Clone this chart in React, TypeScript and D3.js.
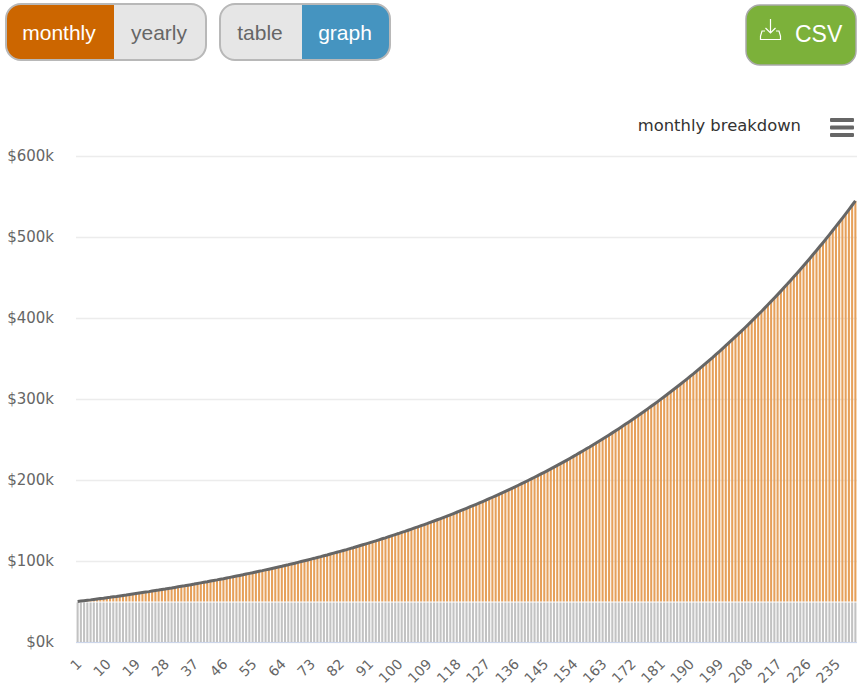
import React, { useEffect, useRef } from "react";
import * as d3 from "d3";

// balance in $k, one per month
const totals = [
  50.0, 50.5, 51.0, 51.5, 52.0, 52.6, 53.1, 53.6, 54.1, 54.7, 55.2, 55.8, 56.3, 56.9, 57.5, 58.0, 58.6, 59.2, 59.8, 60.4,
  61.0, 61.6, 62.2, 62.9, 63.5, 64.1, 64.8, 65.4, 66.1, 66.7, 67.4, 68.1, 68.8, 69.4, 70.1, 70.8, 71.5, 72.3, 73.0, 73.7,
  74.4, 75.2, 76.0, 76.7, 77.5, 78.2, 79.0, 79.8, 80.6, 81.4, 82.2, 83.0, 83.9, 84.7, 85.5, 86.4, 87.3, 88.1, 89.0, 89.9,
  90.8, 91.7, 92.6, 93.5, 94.5, 95.4, 96.4, 97.3, 98.3, 99.3, 100.3, 101.3, 102.3, 103.3, 104.4, 105.4, 106.5, 107.5, 108.6, 109.7,
  110.8, 111.9, 113.0, 114.1, 115.3, 116.4, 117.6, 118.8, 120.0, 121.2, 122.4, 123.6, 124.8, 126.1, 127.4, 128.6, 130.0, 131.3, 132.6, 133.9,
  135.3, 136.6, 138.0, 139.4, 140.8, 142.2, 143.6, 145.0, 146.4, 147.9, 149.4, 150.9, 152.4, 153.9, 155.5, 157.0, 158.6, 160.2, 161.8, 163.4,
  165.0, 166.7, 168.3, 170.0, 171.7, 173.4, 175.2, 176.9, 178.7, 180.5, 182.3, 184.1, 186.0, 187.8, 189.7, 191.6, 193.5, 195.4, 197.4, 199.4,
  201.4, 203.4, 205.4, 207.5, 209.5, 211.6, 213.7, 215.9, 218.0, 220.2, 222.4, 224.6, 226.9, 229.2, 231.4, 233.8, 236.1, 238.5, 240.8, 243.3,
  245.7, 248.1, 250.6, 253.1, 255.7, 258.2, 260.8, 263.4, 266.0, 268.7, 271.4, 274.1, 276.8, 279.6, 282.4, 285.2, 288.1, 291.0, 293.9, 296.8,
  299.8, 302.8, 305.8, 308.9, 312.0, 315.1, 318.2, 321.4, 324.6, 327.9, 331.1, 334.5, 337.8, 341.2, 344.6, 348.1, 351.5, 355.1, 358.6, 362.2,
  365.8, 369.5, 373.2, 376.9, 380.7, 384.5, 388.3, 392.2, 396.1, 400.1, 404.1, 408.1, 412.2, 416.4, 420.5, 424.7, 428.9, 433.2, 437.6, 441.9,
  446.4, 450.8, 455.3, 459.9, 464.5, 469.1, 473.8, 478.6, 483.3, 488.2, 493.0, 498.0, 503.0, 508.0, 513.1, 518.2, 523.4, 528.6, 533.9, 539.2,
  544.6,
];
const principal = 50;
const months = totals.map((_, i) => i + 1);
const monthTicks = months.filter((m) => m % 9 === 1);
const valueTicks = [0, 100, 200, 300, 400, 500, 600];

const toggles = [
  { x: 6, w: 200, split: 108, left: "monthly", right: "yearly", active: "left" },
  { x: 220, w: 170, split: 82, left: "table", right: "graph", active: "right" },
];

const WIDTH = 857;
const HEIGHT = 688;
const margin = { top: 156, right: 0, bottom: 46, left: 76 };
const btnFont = '"Liberation Sans", Arial, sans-serif';
const chartFont = '"DejaVu Sans", Verdana, sans-serif';

export default function App() {
  const ref = useRef<SVGSVGElement>(null);

  useEffect(() => {
    const svg = d3.select(ref.current);
    svg.selectAll("*").remove();

    const soft = svg.append("defs").append("filter").attr("id", "soft");
    soft.append("feGaussianBlur").attr("stdDeviation", 0.3);

    const xScale = d3.scaleBand<number>()
      .domain(months)
      .range([margin.left, WIDTH - margin.right])
      .paddingInner(0.36)
      .paddingOuter(0.18);

    const yScale = d3.scaleLinear()
      .domain([0, 600])
      .range([HEIGHT - margin.bottom, margin.top]);

    // y axis + grid
    const yAxis = svg.append("g")
      .attr("transform", `translate(${margin.left},0)`)
      .call(d3.axisLeft(yScale).tickValues(valueTicks).tickSize(-(WIDTH - margin.left)).tickFormat((d) => `$${d}k`));
    yAxis.select(".domain").remove();
    yAxis.selectAll("line").attr("stroke", "#ececec").attr("stroke-width", 1.6);
    yAxis.selectAll("text")
      .attr("x", -22)
      .attr("fill", "#666")
      .style("font-family", chartFont)
      .style("font-size", "15px");

    const marks = svg.append("g").attr("filter", "url(#soft)");

    // stacked columns
    marks.append("g").selectAll("rect").data(months).join("rect")
      .attr("x", (d) => xScale(d))
      .attr("width", xScale.bandwidth())
      .attr("y", yScale(principal) + 1)
      .attr("height", yScale(0) - yScale(principal) - 1)
      .attr("fill", "#c2c2c2");

    marks.append("g").selectAll("rect").data(months).join("rect")
      .attr("x", (d) => xScale(d))
      .attr("width", xScale.bandwidth())
      .attr("y", (d, i) => yScale(totals[i]))
      .attr("height", (d, i) => Math.max(0, yScale(principal) - yScale(totals[i])))
      .attr("fill", "#e6a05a");

    // baseline
    svg.append("line")
      .attr("x1", margin.left).attr("x2", WIDTH)
      .attr("y1", yScale(0) + 0.5).attr("y2", yScale(0) + 0.5)
      .attr("stroke", "#ccd6eb");

    // balance line
    const line = d3.line<number>()
      .x((d) => xScale(d) + xScale.bandwidth() / 2)
      .y((d, i) => yScale(totals[i]));
    svg.append("path")
      .attr("d", line(months))
      .attr("fill", "none")
      .attr("stroke", "#666")
      .attr("stroke-width", 3)
      .attr("filter", "url(#soft)");

    // x axis
    const xAxis = svg.append("g")
      .attr("transform", `translate(0,${yScale(0)})`)
      .call(d3.axisBottom(xScale).tickValues(monthTicks).tickSize(0));
    xAxis.select(".domain").remove();
    xAxis.selectAll("text")
      .attr("fill", "#666")
      .attr("text-anchor", "end")
      .attr("dy", 0)
      .attr("y", 0)
      .attr("transform", "translate(5,23) rotate(-45)")
      .style("font-family", chartFont)
      .style("font-size", "14px");

    // chart title + menu
    svg.append("text")
      .attr("x", 801).attr("y", 131)
      .attr("text-anchor", "end")
      .attr("fill", "#333")
      .style("font-family", chartFont)
      .style("font-size", "16.4px")
      .text("monthly breakdown");
    svg.append("g").selectAll("rect").data([0, 1, 2]).join("rect")
      .attr("x", 830).attr("width", 24)
      .attr("y", (d) => 118 + d * 7.5)
      .attr("height", 4)
      .attr("rx", 1)
      .attr("fill", "#666");

    // toggle buttons
    toggles.forEach((t) => {
      const y = 4, h = 56, r = 15;
      const g = svg.append("g");
      const id = `clip-${t.left}`;
      g.append("clipPath").attr("id", id).append("rect")
        .attr("x", t.x).attr("y", y).attr("width", t.w).attr("height", h).attr("rx", r);
      const body = g.append("g").attr("clip-path", `url(#${id})`);
      body.append("rect")
        .attr("x", t.x).attr("y", y).attr("width", t.split).attr("height", h)
        .attr("fill", t.active === "left" ? "#cc6600" : "#e6e6e6");
      body.append("rect")
        .attr("x", t.x + t.split).attr("y", y).attr("width", t.w - t.split).attr("height", h)
        .attr("fill", t.active === "right" ? "#4594c0" : "#e6e6e6");
      g.append("rect")
        .attr("x", t.x).attr("y", y).attr("width", t.w).attr("height", h).attr("rx", r)
        .attr("fill", "none").attr("stroke", "#b8b8b8").attr("stroke-width", 2);
      [["left", t.left, t.x + t.split / 2], ["right", t.right, t.x + t.split + (t.w - t.split) / 2]].forEach(([side, label, cx]) => {
        g.append("text")
          .attr("x", (cx as number) - 1).attr("y", 40)
          .attr("text-anchor", "middle")
          .attr("fill", t.active === side ? "#fff" : "#666")
          .style("font-family", btnFont)
          .style("font-size", "21px")
          .text(label as string);
      });
    });

    // CSV button
    const csv = svg.append("g");
    csv.append("rect")
      .attr("x", 746).attr("y", 5).attr("width", 110).attr("height", 60).attr("rx", 14)
      .attr("fill", "#7cb13a").attr("stroke", "#a9a9a9").attr("stroke-width", 1.5);
    csv.append("path")
      .attr("d", "M770.5 19V33M765.5 28L770.5 33L775.5 28M765 31H762L760.5 36V39.5H780.5V36L779 31H776")
      .attr("fill", "none").attr("stroke", "#fff").attr("stroke-width", 1.2);
    csv.append("text")
      .attr("x", 795).attr("y", 42)
      .attr("fill", "#fff")
      .style("font-family", btnFont)
      .style("font-size", "23px")
      .text("CSV");
  }, []);

  return (
    <svg ref={ref} width={WIDTH} height={HEIGHT} style={{ position: "absolute", left: 0, top: 0, background: "#fff" }} />
  );
}
